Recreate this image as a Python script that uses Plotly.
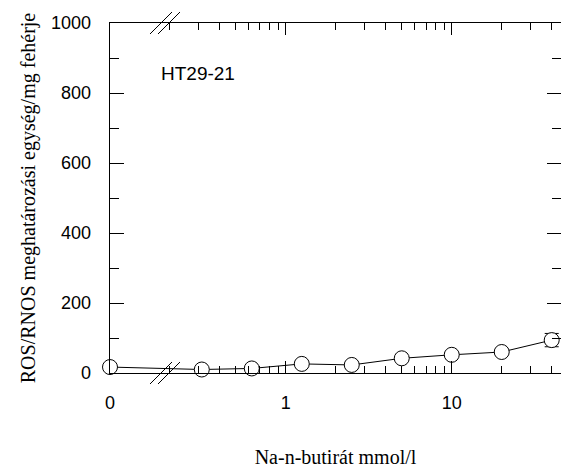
import math
import plotly.graph_objects as go

# ---- data ----
conc_mmol = [0, 0.3125, 0.625, 1.25, 2.5, 5, 10, 20, 40]           # Na-n-butirát mmol/l
ros_values = [17, 10, 13, 26, 23, 42, 52, 60, 94]                   # ROS/RNOS units / mg protein
ros_error = [4, 3, 3, 4, 4, 5, 6, 6, 19]
x_tick_labels = ["0", "1", "10"]
x_tick_values = [0, 1, 10]
y_tick_values = [0, 200, 400, 600, 800, 1000]
minor_x_values = [0.2, 0.3, 0.4, 0.5, 0.6, 0.7, 0.8, 0.9,
                  2, 3, 4, 5, 6, 7, 8, 9, 20, 30, 40, 50]

# ---- broken log axis (in decades); the zero dose sits left of the break ----
ZERO_POS = -1.058
X_RANGE_MAX = 1.658

def axis_pos(v):
    return ZERO_POS if v == 0 else math.log10(v)

xs = [axis_pos(v) for v in conc_mmol]
tickpos = [axis_pos(v) for v in x_tick_values]
minorpos = [axis_pos(v) for v in minor_x_values]

W, H = 561, 468
ML, MR, MT, MB = 91, 0, 23, 78
FRAME_L, FRAME_B = 110, 373            # pixel position of the frame's left / bottom line
PW, PH = W - ML - MR, H - MT - MB
X_DOM0 = (FRAME_L - ML) / PW
Y_DOM0 = (H - MB - FRAME_B) / PH

SANS = "Liberation Sans, Arial, sans-serif"
SERIF = "Liberation Serif, Times New Roman, serif"

def px2paper_x(px):
    return (px - ML) / PW

def py2paper_y(py):
    return (H - MB - py) / PH

fig = go.Figure()
fig.add_trace(go.Scatter(
    x=xs, y=ros_values, customdata=conc_mmol,
    hovertemplate="%{customdata} mmol/l: %{y}<extra></extra>",
    mode="lines+markers",
    line=dict(color="black", width=1),
    marker=dict(symbol="circle", size=15, color="white", line=dict(color="black", width=1)),
    error_y=dict(type="data", array=ros_error, color="black", thickness=1, width=7),
    cliponaxis=False, showlegend=False))

# "//" break marks on the bottom and top frame lines
shapes = []
for axis_py in (FRAME_B, MT):
    for cx in (161, 169):
        shapes.append(dict(type="line", xref="paper", yref="paper",
            x0=px2paper_x(cx - 11), y0=py2paper_y(axis_py + 11),
            x1=px2paper_x(cx + 11), y1=py2paper_y(axis_py - 11),
            line=dict(color="black", width=1)))

fig.update_layout(
    width=W, height=H,
    margin=dict(l=ML, r=MR, t=MT, b=MB, autoexpand=False),
    paper_bgcolor="white", plot_bgcolor="white",
    shapes=shapes,
    annotations=[dict(text="HT29-21", xref="paper", yref="paper",
        x=px2paper_x(159), y=py2paper_y(73), xanchor="left", yanchor="middle",
        showarrow=False, font=dict(family=SANS, size=19, color="black"))],
    # frame x axis: major ticks only
    xaxis=dict(
        domain=[X_DOM0, 1], anchor="y",
        type="linear", range=[ZERO_POS, X_RANGE_MAX],
        tickmode="array", tickvals=tickpos,
        ticks="inside", ticklen=12, tickwidth=1, tickcolor="black",
        showline=True, linecolor="black", linewidth=1, mirror="ticks",
        showgrid=False, zeroline=False, showticklabels=False,
    ),
    # second frame x axis carrying the minor ticks (as its own ticks)
    xaxis3=dict(
        overlaying="x", matches="x", anchor="y",
        tickmode="array", tickvals=minorpos,
        ticks="inside", ticklen=7, tickwidth=1, tickcolor="black",
        showline=True, linecolor="black", linewidth=1, mirror="ticks",
        showgrid=False, zeroline=False, showticklabels=False,
    ),
    # label x axis, a little below the frame
    xaxis2=dict(
        overlaying="x", matches="x", anchor="free", position=0,
        tickmode="array", tickvals=tickpos, ticktext=x_tick_labels, ticks="",
        showline=False, showgrid=False, zeroline=False,
        tickfont=dict(family=SANS, size=18, color="black"),
        title=dict(text="Na-n-butirát mmol/l",
                   font=dict(family=SERIF, size=20, color="black"), standoff=43),
    ),
    # frame y axis: ticks only
    yaxis=dict(
        domain=[Y_DOM0, 1], anchor="x",
        range=[0, 1000], tickmode="array", tickvals=y_tick_values,
        ticks="inside", ticklen=14, tickwidth=1, tickcolor="black",
        minor=dict(dtick=100, ticks="inside", ticklen=9, tickwidth=1, tickcolor="black"),
        showline=True, linecolor="black", linewidth=1, mirror="ticks",
        showgrid=False, zeroline=False, showticklabels=False,
    ),
    # label y axis, a little left of the frame
    yaxis2=dict(
        overlaying="y", matches="y", anchor="free", position=0, side="left",
        tickmode="array", tickvals=y_tick_values, ticks="",
        showline=False, showgrid=False, zeroline=False,
        tickfont=dict(family=SANS, size=18, color="black"),
        title=dict(text="ROS/RNOS meghatározási egység/mg fehérje",
                   font=dict(family=SERIF, size=20, color="black"), standoff=8),
    ),
)
# invisible helper traces so the extra axes are drawn
fig.add_trace(go.Scatter(x=[xs[0]], y=[ros_values[0]], xaxis="x2", yaxis="y2",
                         mode="markers", marker=dict(opacity=0),
                         hoverinfo="skip", showlegend=False))
fig.add_trace(go.Scatter(x=[xs[0]], y=[ros_values[0]], xaxis="x3", yaxis="y",
                         mode="markers", marker=dict(opacity=0),
                         hoverinfo="skip", showlegend=False))

fig.write_html("out.html")
